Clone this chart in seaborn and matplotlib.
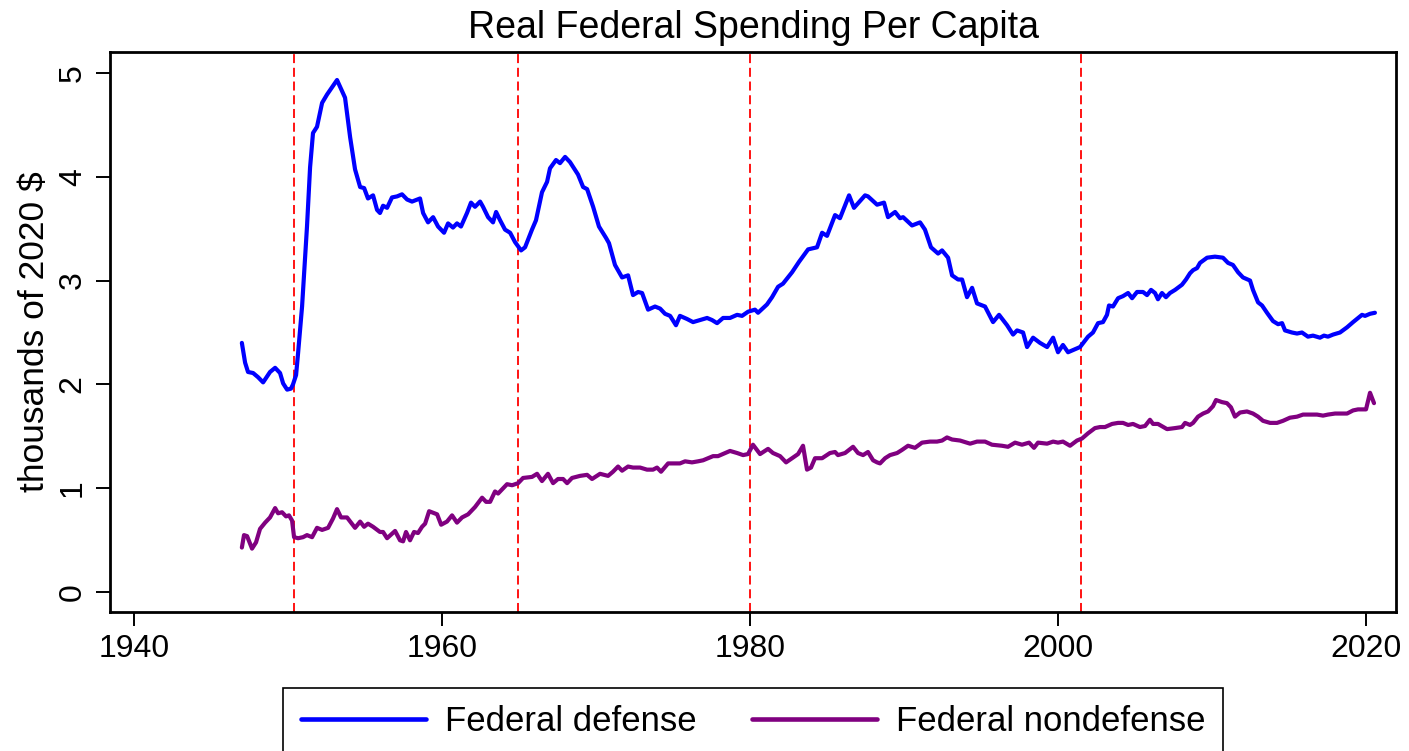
import matplotlib
matplotlib.use("Agg")
import matplotlib.pyplot as plt
import seaborn as sns
import pandas as pd

# Real federal spending per capita, thousands of 2020 dollars
defense_year = [
    1947.00, 1947.21, 1947.40, 1947.73, 1948.05, 1948.38, 1948.83, 1949.16, 1949.48, 1949.68,
    1949.94, 1950.19, 1950.32, 1950.52, 1950.65, 1950.84, 1950.91, 1951.23, 1951.43, 1951.62,
    1951.88, 1952.21, 1952.53, 1953.18, 1953.70, 1954.03, 1954.35, 1954.68, 1954.94, 1955.19,
    1955.52, 1955.78, 1955.97, 1956.17, 1956.43, 1956.75, 1957.08, 1957.40, 1957.73, 1958.05,
    1958.57, 1958.77, 1959.09, 1959.42, 1959.74, 1960.13, 1960.39, 1960.71, 1960.97, 1961.23,
    1961.62, 1961.88, 1962.14, 1962.47, 1962.66, 1962.99, 1963.31, 1963.51, 1963.77, 1964.09,
    1964.42, 1964.74, 1965.13, 1965.39, 1965.84, 1966.10, 1966.49, 1966.82, 1967.01, 1967.40,
    1967.66, 1967.99, 1968.31, 1968.83, 1969.16, 1969.42, 1969.81, 1970.19, 1970.65, 1970.84,
    1971.23, 1971.69, 1972.08, 1972.40, 1972.73, 1972.99, 1973.38, 1973.83, 1974.16, 1974.48,
    1974.81, 1975.19, 1975.45, 1975.91, 1976.30, 1976.75, 1977.21, 1977.53, 1977.86, 1978.25,
    1978.70, 1979.16, 1979.48, 1979.87, 1980.32, 1980.52, 1981.10, 1981.43, 1981.82, 1982.14,
    1982.73, 1983.18, 1983.77, 1984.35, 1984.68, 1985.00, 1985.52, 1985.84, 1986.43, 1986.75,
    1987.47, 1987.66, 1988.25, 1988.70, 1988.96, 1989.42, 1989.74, 1989.94, 1990.52, 1991.04,
    1991.36, 1991.75, 1992.21, 1992.47, 1992.86, 1993.12, 1993.51, 1993.77, 1994.09, 1994.42,
    1994.74, 1995.26, 1995.78, 1996.17, 1996.69, 1997.08, 1997.34, 1997.73, 1997.99, 1998.38,
    1998.83, 1999.29, 1999.68, 2000.00, 2000.32, 2000.65, 2001.43, 2001.95, 2002.27, 2002.60,
    2002.92, 2003.18, 2003.31, 2003.57, 2003.90, 2004.22, 2004.55, 2004.81, 2005.13, 2005.52,
    2005.78, 2006.04, 2006.30, 2006.49, 2006.75, 2007.01, 2007.27, 2007.60, 2008.05, 2008.31,
    2008.57, 2008.77, 2009.03, 2009.22, 2009.68, 2010.19, 2010.71, 2011.04, 2011.36, 2011.69,
    2012.01, 2012.47, 2012.66, 2012.99, 2013.25, 2013.57, 2013.96, 2014.29, 2014.55, 2014.74,
    2015.19, 2015.52, 2015.84, 2016.23, 2016.56, 2017.01, 2017.27, 2017.53, 2017.86, 2018.31,
    2018.77, 2019.16, 2019.74, 2019.94, 2020.26, 2020.58,
]
defense_value = [
    2.40, 2.21, 2.12, 2.11, 2.07, 2.02, 2.12, 2.16, 2.11, 2.01,
    1.95, 1.96, 2.00, 2.09, 2.30, 2.62, 2.75, 3.52, 4.09, 4.42,
    4.48, 4.71, 4.79, 4.93, 4.76, 4.38, 4.07, 3.90, 3.89, 3.79,
    3.82, 3.68, 3.65, 3.72, 3.70, 3.80, 3.81, 3.83, 3.78, 3.76,
    3.79, 3.65, 3.56, 3.61, 3.52, 3.46, 3.55, 3.51, 3.55, 3.52,
    3.65, 3.75, 3.71, 3.76, 3.71, 3.61, 3.56, 3.66, 3.58, 3.49,
    3.46, 3.37, 3.29, 3.32, 3.49, 3.58, 3.85, 3.95, 4.08, 4.16,
    4.13, 4.19, 4.14, 4.02, 3.90, 3.88, 3.71, 3.52, 3.41, 3.36,
    3.15, 3.03, 3.05, 2.86, 2.89, 2.88, 2.72, 2.75, 2.73, 2.68,
    2.66, 2.57, 2.66, 2.63, 2.60, 2.62, 2.64, 2.62, 2.59, 2.64,
    2.64, 2.67, 2.66, 2.70, 2.72, 2.69, 2.77, 2.84, 2.94, 2.97,
    3.08, 3.18, 3.30, 3.32, 3.46, 3.43, 3.63, 3.60, 3.82, 3.70,
    3.82, 3.81, 3.73, 3.75, 3.61, 3.66, 3.60, 3.61, 3.53, 3.56,
    3.49, 3.32, 3.26, 3.29, 3.22, 3.05, 3.01, 3.01, 2.84, 2.93,
    2.78, 2.75, 2.60, 2.67, 2.57, 2.48, 2.52, 2.50, 2.36, 2.45,
    2.40, 2.36, 2.45, 2.31, 2.38, 2.31, 2.36, 2.46, 2.50, 2.59,
    2.60, 2.67, 2.76, 2.75, 2.83, 2.85, 2.88, 2.83, 2.89, 2.89,
    2.86, 2.91, 2.88, 2.82, 2.88, 2.84, 2.88, 2.91, 2.96, 3.01,
    3.07, 3.10, 3.12, 3.17, 3.22, 3.23, 3.22, 3.17, 3.15, 3.08,
    3.03, 3.00, 2.91, 2.79, 2.76, 2.69, 2.61, 2.58, 2.59, 2.52,
    2.50, 2.49, 2.50, 2.46, 2.47, 2.45, 2.47, 2.46, 2.48, 2.50,
    2.55, 2.60, 2.67, 2.66, 2.68, 2.69,
]

nondefense_year = [
    1947.00, 1947.14, 1947.34, 1947.66, 1947.92, 1948.18, 1948.51, 1948.83, 1949.16, 1949.35,
    1949.61, 1949.87, 1950.06, 1950.26, 1950.39, 1950.65, 1950.97, 1951.23, 1951.56, 1951.88,
    1952.21, 1952.60, 1952.92, 1953.18, 1953.44, 1953.83, 1954.09, 1954.35, 1954.68, 1954.94,
    1955.19, 1955.52, 1955.97, 1956.17, 1956.43, 1956.95, 1957.27, 1957.47, 1957.66, 1957.92,
    1958.18, 1958.44, 1958.70, 1958.90, 1959.16, 1959.68, 1959.94, 1960.32, 1960.65, 1960.97,
    1961.30, 1961.69, 1962.14, 1962.60, 1962.86, 1963.12, 1963.44, 1963.64, 1964.22, 1964.55,
    1964.94, 1965.26, 1965.84, 1966.17, 1966.49, 1966.88, 1967.21, 1967.53, 1967.86, 1968.12,
    1968.44, 1968.96, 1969.42, 1969.74, 1970.26, 1970.78, 1971.10, 1971.43, 1971.69, 1972.08,
    1972.40, 1972.86, 1973.31, 1973.70, 1973.96, 1974.22, 1974.68, 1975.00, 1975.45, 1975.78,
    1976.23, 1976.62, 1976.95, 1977.60, 1977.92, 1978.70, 1979.16, 1979.55, 1979.87, 1980.19,
    1980.65, 1981.17, 1981.49, 1981.95, 1982.34, 1982.73, 1983.12, 1983.44, 1983.70, 1983.96,
    1984.22, 1984.68, 1985.19, 1985.52, 1985.71, 1986.17, 1986.69, 1987.01, 1987.34, 1987.66,
    1987.99, 1988.25, 1988.44, 1988.77, 1989.09, 1989.55, 1989.87, 1990.26, 1990.71, 1991.17,
    1991.69, 1992.14, 1992.47, 1992.79, 1993.12, 1993.64, 1994.29, 1994.74, 1995.26, 1995.71,
    1996.36, 1996.75, 1997.21, 1997.66, 1998.12, 1998.44, 1998.70, 1999.29, 1999.68, 2000.00,
    2000.32, 2000.78, 2001.23, 2001.56, 2001.95, 2002.40, 2002.73, 2003.05, 2003.51, 2003.90,
    2004.22, 2004.55, 2004.87, 2005.32, 2005.65, 2005.97, 2006.17, 2006.49, 2007.08, 2007.60,
    2008.05, 2008.25, 2008.57, 2008.77, 2009.09, 2009.42, 2009.74, 2010.06, 2010.26, 2010.65,
    2010.97, 2011.23, 2011.49, 2011.82, 2012.27, 2012.66, 2012.99, 2013.31, 2013.77, 2014.22,
    2014.61, 2015.06, 2015.52, 2015.91, 2016.36, 2016.82, 2017.21, 2017.53, 2017.99, 2018.44,
    2018.77, 2019.16, 2019.48, 2020.00, 2020.26, 2020.52,
]
nondefense_value = [
    0.43, 0.55, 0.54, 0.42, 0.48, 0.61, 0.67, 0.72, 0.81, 0.76,
    0.77, 0.73, 0.74, 0.69, 0.53, 0.52, 0.53, 0.55, 0.53, 0.62,
    0.60, 0.62, 0.71, 0.80, 0.72, 0.72, 0.67, 0.62, 0.68, 0.63,
    0.66, 0.63, 0.58, 0.58, 0.52, 0.59, 0.50, 0.49, 0.58, 0.50,
    0.58, 0.57, 0.63, 0.66, 0.78, 0.75, 0.65, 0.68, 0.74, 0.67,
    0.72, 0.75, 0.82, 0.91, 0.87, 0.87, 0.97, 0.95, 1.04, 1.03,
    1.05, 1.10, 1.11, 1.14, 1.07, 1.14, 1.05, 1.09, 1.09, 1.05,
    1.10, 1.12, 1.13, 1.09, 1.14, 1.12, 1.16, 1.21, 1.17, 1.21,
    1.20, 1.20, 1.18, 1.18, 1.20, 1.16, 1.24, 1.24, 1.24, 1.26,
    1.25, 1.26, 1.27, 1.31, 1.31, 1.36, 1.34, 1.32, 1.33, 1.42,
    1.33, 1.38, 1.34, 1.31, 1.25, 1.29, 1.33, 1.41, 1.18, 1.20,
    1.29, 1.29, 1.34, 1.35, 1.32, 1.34, 1.40, 1.34, 1.32, 1.35,
    1.27, 1.25, 1.24, 1.29, 1.32, 1.34, 1.37, 1.41, 1.39, 1.44,
    1.45, 1.45, 1.46, 1.49, 1.47, 1.46, 1.43, 1.45, 1.45, 1.42,
    1.41, 1.40, 1.44, 1.42, 1.44, 1.39, 1.44, 1.43, 1.45, 1.44,
    1.45, 1.41, 1.46, 1.48, 1.53, 1.58, 1.59, 1.59, 1.62, 1.63,
    1.63, 1.61, 1.62, 1.59, 1.60, 1.66, 1.62, 1.62, 1.57, 1.58,
    1.59, 1.63, 1.61, 1.63, 1.69, 1.72, 1.74, 1.79, 1.85, 1.83,
    1.82, 1.78, 1.69, 1.73, 1.74, 1.72, 1.69, 1.65, 1.63, 1.63,
    1.65, 1.68, 1.69, 1.71, 1.71, 1.71, 1.70, 1.71, 1.72, 1.72,
    1.72, 1.75, 1.76, 1.76, 1.92, 1.82,
]

# Start of major military buildups
event_years = [1950.4, 1964.9, 1980.0, 2001.5]

series_names = ["Federal defense", "Federal nondefense"]
series_colors = ["#0000ff", "#800080"]

xticks = [1940, 1960, 1980, 2000, 2020]
yticks = [0, 1, 2, 3, 4, 5]

df = pd.concat([
    pd.DataFrame({"year": defense_year, "value": defense_value, "series": series_names[0]}),
    pd.DataFrame({"year": nondefense_year, "value": nondefense_value, "series": series_names[1]}),
], ignore_index=True)

sns.set_theme(style="white")
plt.rcParams["font.family"] = ["Liberation Sans", "DejaVu Sans"]
plt.rcParams["text.color"] = "black"

fig = plt.figure(figsize=(14.09, 7.51), dpi=100)
ax = fig.add_axes([0.0781, 0.1851, 0.9127, 0.7457])

for yr in event_years:
    ax.axvline(yr, color="red", lw=1.3, linestyle=(0, (5, 2.6)), zorder=1)

sns.lineplot(data=df, x="year", y="value", hue="series", hue_order=series_names,
             palette=series_colors, linewidth=3.0, ax=ax, legend=False, zorder=3,
             estimator=None, sort=False)

ax.set_xlim(1938.44, 2021.95)
ax.set_ylim(-0.19, 5.20)
ax.set_xticks(xticks)
ax.set_yticks(yticks)
ax.set_xticklabels([str(t) for t in xticks], fontsize=23)
ax.set_yticklabels([str(t) for t in yticks], fontsize=23, rotation=90, va="center")
ax.tick_params(axis="both", direction="out", length=10, width=1.4, color="black",
               labelcolor="black", bottom=True, left=True, pad=6)
ax.set_xlabel("")
ax.set_ylabel("thousands of 2020 $", fontsize=25.5, color="black", labelpad=5)
ax.set_title("Real Federal Spending Per Capita", fontsize=27, color="black", pad=10)
for sp in ax.spines.values():
    sp.set_visible(True)
    sp.set_color("black")
    sp.set_linewidth(2.0)

handles = [plt.Line2D([], [], color=c, lw=3.3) for c in series_colors]
leg = fig.legend(handles, series_names, loc="upper center",
                 bbox_to_anchor=(0.5344, 0.084), borderaxespad=0.0,
                 ncol=2, fontsize=25, frameon=True, fancybox=False, edgecolor="black",
                 framealpha=1, handlelength=3.6, handletextpad=0.55, columnspacing=1.6,
                 borderpad=0.5)
leg.get_frame().set_linewidth(1.2)
for t in leg.get_texts():
    t.set_color("black")

fig.savefig("out.png", dpi=100)
